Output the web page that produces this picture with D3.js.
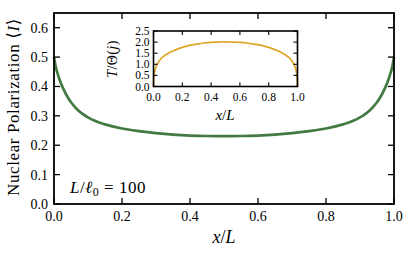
<!DOCTYPE html>
<html><head><meta charset="utf-8">
<script src="https://cdn.jsdelivr.net/npm/d3@7"></script>
<style>body{margin:0;background:#fff}svg text{font-family:"Liberation Serif","DejaVu Serif",serif;fill:#000}</style>
</head><body><svg id="c" width="415" height="256"></svg>
<script>
// Main curve: nuclear polarization vs x/L
const mainX = [0,0.002,0.005,0.01,0.015,0.02,0.03,0.04,0.05,0.06,0.07,0.08,0.09,0.1,0.12,0.15,0.2,0.25,0.3,0.35,0.4,0.45,0.5,
  0.55,0.6,0.65,0.7,0.75,0.8,0.85,0.88,0.9,0.91,0.92,0.93,0.94,0.95,0.96,0.97,0.98,0.985,0.99,0.995,0.998,1];
const mainY = [0.5,0.486,0.468,0.446,0.428,0.412,0.386,0.364,0.346,0.332,0.320,0.310,0.302,0.295,0.283,0.271,0.257,0.248,0.241,0.236,0.233,0.2315,0.231,
  0.2315,0.233,0.236,0.241,0.248,0.257,0.271,0.283,0.295,0.302,0.310,0.320,0.332,0.346,0.364,0.386,0.412,0.428,0.446,0.468,0.486,0.5];
// Inset curve: T/Theta(j) vs x/L
const insetX = [0,0.002,0.005,0.01,0.02,0.03,0.05,0.07,0.1,0.15,0.2,0.25,0.3,0.35,0.4,0.45,0.5,
  0.55,0.6,0.65,0.7,0.75,0.8,0.85,0.9,0.93,0.95,0.97,0.98,0.99,0.995,0.998,1];
const insetY = [0,0.35,0.55,0.72,0.93,1.06,1.24,1.36,1.49,1.64,1.76,1.85,1.91,1.96,1.99,2.0,2.01,
  2.0,1.99,1.96,1.91,1.85,1.76,1.64,1.49,1.36,1.24,1.06,0.93,0.72,0.55,0.35,0];
const mainXTicks = [0,0.2,0.4,0.6,0.8,1.0];
const mainYTicks = [0,0.1,0.2,0.3,0.4,0.5,0.6];
const insetXTicks = [0,0.2,0.4,0.6,0.8,1.0];
const insetYTicks = [0,0.5,1.0,1.5,2.0,2.5];

const svg = d3.select("#c");

function panel(g, x, y, xt, yt, o) {
  const [x0,x1] = x.range(), [y0,y1] = y.range();
  const f = d3.format(".1f");
  xt.forEach(v=>{
    g.append("line").attr("x1",x(v)).attr("x2",x(v)).attr("y1",y0).attr("y2",y0-o.tl).attr("stroke","#000").attr("stroke-width",o.tw);
    g.append("line").attr("x1",x(v)).attr("x2",x(v)).attr("y1",y1).attr("y2",y1+o.tl).attr("stroke","#000").attr("stroke-width",o.tw);
    g.append("text").attr("x",x(v)).attr("y",y0+o.xoff).attr("text-anchor","middle").attr("font-size",o.fs).text(f(v));
  });
  yt.forEach(v=>{
    g.append("line").attr("x1",x0).attr("x2",x0+o.tl).attr("y1",y(v)).attr("y2",y(v)).attr("stroke","#000").attr("stroke-width",o.tw);
    g.append("line").attr("x1",x1).attr("x2",x1-o.tl).attr("y1",y(v)).attr("y2",y(v)).attr("stroke","#000").attr("stroke-width",o.tw);
    g.append("text").attr("x",x0-o.yoff).attr("y",y(v)).attr("dy","0.35em").attr("text-anchor","end").attr("font-size",o.fs).text(f(v));
  });
  g.append("rect").attr("x",x0).attr("y",y1).attr("width",x1-x0).attr("height",y0-y1)
    .attr("fill","none").attr("stroke","#000").attr("stroke-width",o.lw);
}

// main
const X = d3.scaleLinear().domain([0,1]).range([54,394]);
const Y = d3.scaleLinear().domain([0,0.65]).range([204,13]);
const gm = svg.append("g");
gm.append("path").datum(mainX.map((v,i)=>[v,mainY[i]]))
  .attr("d", d3.line().x(d=>X(d[0])).y(d=>Y(d[1])).curve(d3.curveMonotoneX))
  .attr("fill","none").attr("stroke","#437a41").attr("stroke-width",2.7);
panel(gm, X, Y, mainXTicks, mainYTicks, {tl:6, tw:1.3, lw:1.8, fs:14, xoff:17, yoff:6});

gm.append("text").attr("x",224).attr("y",243).attr("text-anchor","middle").attr("font-size",18)
  .html('<tspan font-style="italic">x</tspan>/<tspan font-style="italic">L</tspan>');
gm.append("text").attr("transform","translate(19,107) rotate(-90)").attr("text-anchor","middle")
  .attr("font-size",17).attr("letter-spacing",0.6)
  .html('Nuclear Polarization ⟨<tspan font-style="italic">I</tspan>⟩');
gm.append("text").attr("x",70).attr("y",193).attr("font-size",17).attr("letter-spacing",0.5)
  .html('<tspan font-style="italic">L</tspan>/<tspan font-style="italic">ℓ</tspan><tspan font-size="12" dy="3">0</tspan><tspan dy="-3"> = 100</tspan>');

// inset
const Xi = d3.scaleLinear().domain([0,1]).range([153.5,297.5]);
const Yi = d3.scaleLinear().domain([0,2.5]).range([86.5,31]);
const gi = svg.append("g");
gi.append("rect").attr("x",153.5).attr("y",31).attr("width",144).attr("height",55.5).attr("fill","#fff");
gi.append("path").datum(insetX.map((v,i)=>[v,insetY[i]]))
  .attr("d", d3.line().x(d=>Xi(d[0])).y(d=>Yi(d[1])).curve(d3.curveMonotoneX))
  .attr("fill","none").attr("stroke","#e1a526").attr("stroke-width",1.7);
panel(gi, Xi, Yi, insetXTicks, insetYTicks, {tl:4, tw:1.1, lw:1.6, fs:11.5, xoff:14, yoff:4});
gi.append("text").attr("x",225).attr("y",120).attr("text-anchor","middle").attr("font-size",15)
  .html('<tspan font-style="italic">x</tspan>/<tspan font-style="italic">L</tspan>');
gi.append("text").attr("transform","translate(117,59) rotate(-90)").attr("text-anchor","middle")
  .attr("font-size",14).attr("letter-spacing",0.4)
  .html('<tspan font-style="italic">T</tspan>/Θ(<tspan font-style="italic">j</tspan>)');
</script></body></html>
